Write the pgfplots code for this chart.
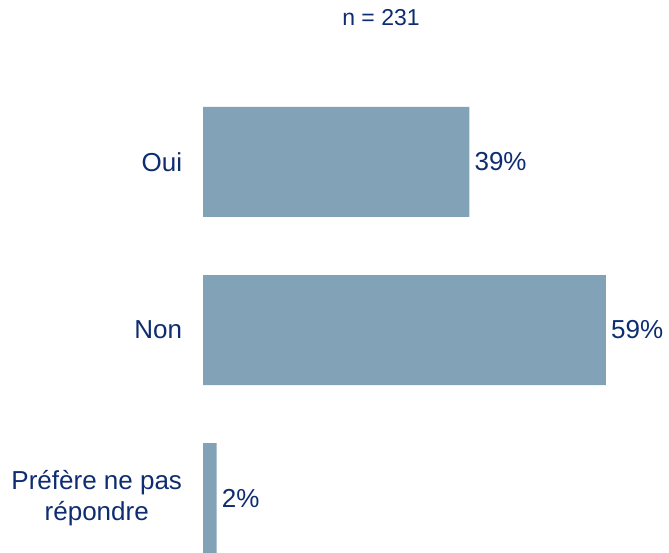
\documentclass[border=0pt]{standalone}
\usepackage{pgfplots}
\pgfplotsset{compat=1.18}
\usepackage{fontspec}
\setmainfont{Liberation Sans}
\definecolor{barc}{RGB}{130,162,183}
\definecolor{txt}{RGB}{14,44,112}
\begin{document}
\begin{tikzpicture}[x=1pt,y=1pt]
\useasboundingbox (0,0) rectangle (669,552);
\node[text=txt, font=\fontsize{23}{27}\selectfont] at (381,534) {n = 231};
\begin{axis}[
 at={(203pt,0pt)}, anchor=south west, scale only axis, width=466pt, height=552pt,
 xmin=0, xmax=68.23, ymin=-0.964, ymax=2.321, y dir=reverse,
 xbar, bar width=110pt, bar shift=0pt,
 axis line style={draw=none}, tick style={draw=none}, xtick=\empty,
 ytick={0,1,2}, yticklabels={Oui,Non,{Préfère ne pas\\répondre}},
 yticklabel style={align=center, font=\fontsize{26}{31}\selectfont, text=txt, inner sep=0pt, xshift=-16.5pt},
 /pgf/number format/assume math mode=true,
 point meta=x,
 nodes near coords={\pgfmathprintnumber{\pgfplotspointmeta}\%},
 nodes near coords style={font=\fontsize{26}{31}\selectfont, text=txt, anchor=west, inner sep=5pt},
]
\addplot[fill=barc, draw=none] coordinates {(39,0) (59,1) (2,2)};
\end{axis}
\end{tikzpicture}
\end{document}
